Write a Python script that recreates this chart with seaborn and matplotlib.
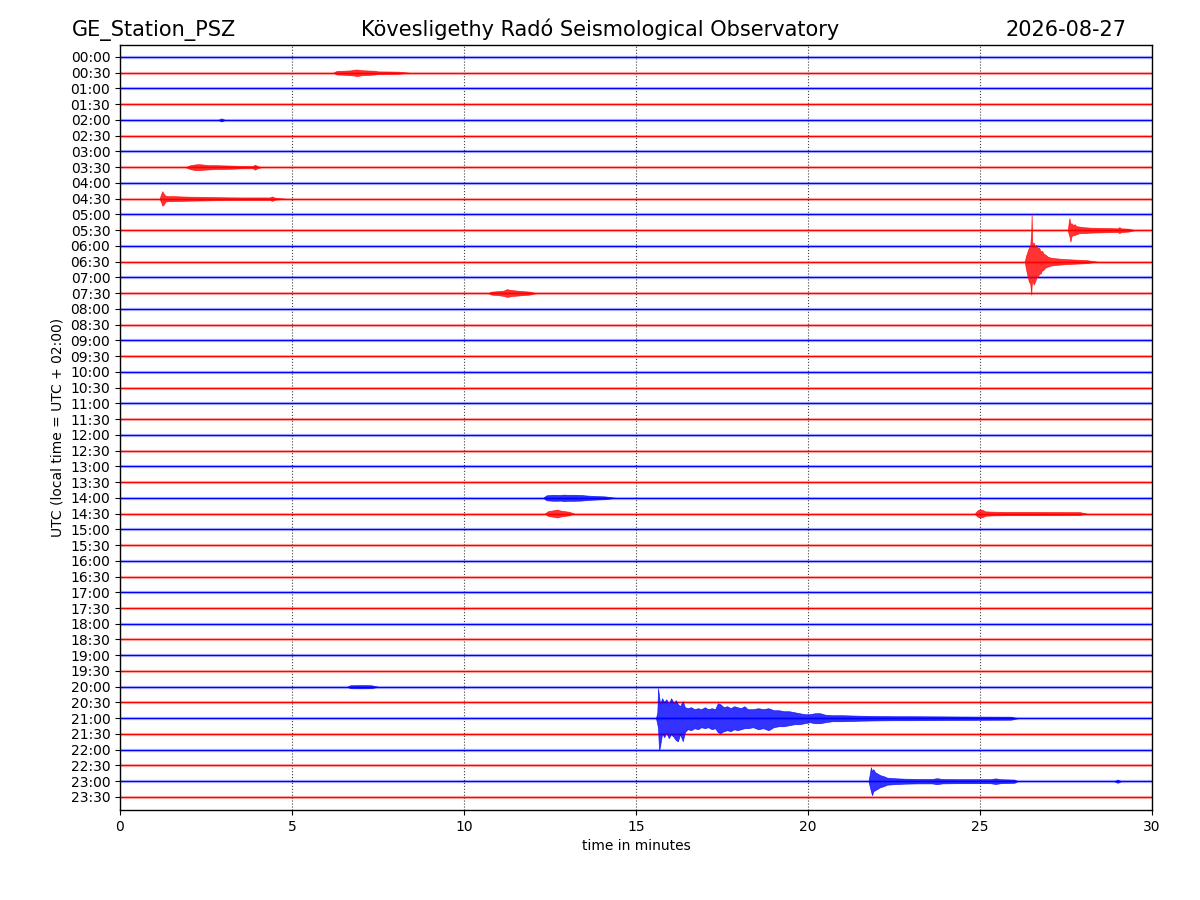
import numpy as np
import pandas as pd
import matplotlib
matplotlib.use("Agg")
import matplotlib.pyplot as plt
import seaborn as sns

# ---------------- data ----------------
station = "GE_Station_PSZ"
observatory = "Kövesligethy Radó Seismological Observatory"
date_label = "2026-08-27"

row_labels = [f"{h:02d}:{m:02d}" for h in range(24) for m in (0, 30)]
row_colors = ["blue", "red"] * 24
x_ticks = [0, 5, 10, 15, 20, 25, 30]

# amplitude unit: counts, 15.75 counts = one trace spacing
COUNTS_PER_ROW = 15.75

# each event: row index, minutes, upper envelope, lower envelope (counts)
ev_row_01 = 1
ev_t_01 = [6.2, 6.3, 6.5, 6.7, 6.8, 6.9, 7.0, 7.2, 7.4, 7.5, 7.8, 8.1, 8.4]
ev_up_01 = [0, 1.8, 2.0, 2.3, 3.0, 3.2, 2.6, 2.2, 2.0, 1.3, 1.2, 1.0, 0]
ev_lo_01 = [0, 1.8, 2.0, 2.5, 2.8, 3.4, 2.6, 2.2, 1.8, 1.3, 1.2, 1.0, 0]

ev_row_02 = 4
ev_t_02 = [2.85, 2.95, 3.05]
ev_up_02 = [0, 1.5, 0]
ev_lo_02 = [0, 1.5, 0]

ev_row_03 = 7
ev_t_03 = [1.9, 2.05, 2.2, 2.3, 2.45, 2.6, 2.8, 3.0, 3.3, 3.5, 3.85, 3.92, 4.0, 4.1]
ev_up_03 = [0, 2.0, 2.8, 3.0, 2.5, 2.0, 2.0, 1.8, 1.5, 1.2, 1.0, 2.5, 1.0, 0]
ev_lo_03 = [0, 2.0, 3.0, 2.8, 2.5, 2.2, 1.8, 1.8, 1.5, 1.2, 1.0, 2.5, 1.0, 0]

ev_row_04 = 9
ev_t_04 = [1.15, 1.2, 1.23, 1.27, 1.32, 1.4, 1.6, 1.8, 2.0, 2.4, 2.8, 3.2, 3.6, 4.0, 4.35, 4.42, 4.5, 4.8]
ev_up_04 = [0, 5.0, 7.5, 5.0, 3.0, 2.5, 2.5, 2.2, 2.0, 1.8, 1.5, 1.3, 1.2, 1.2, 1.2, 2.2, 1.0, 0]
ev_lo_04 = [0, 4.0, 7.0, 6.0, 3.0, 2.5, 2.4, 2.2, 2.0, 1.8, 1.5, 1.3, 1.2, 1.2, 1.2, 2.2, 1.0, 0]

ev_row_05 = 11
ev_t_05 = [27.55, 27.58, 27.6, 27.63, 27.66, 27.7, 27.75, 27.8, 27.9, 28.0, 28.2, 28.5, 28.8, 29.0, 29.05, 29.1, 29.3, 29.5]
ev_up_05 = [0, 8, 12, 6, 7, 5, 6, 4, 3.5, 3, 2.5, 2.2, 2, 1.8, 3, 1.8, 1.5, 0]
ev_lo_05 = [0, 4, 6, 11.5, 6, 5, 5, 4, 3, 3, 2.5, 2.2, 2, 1.8, 3, 1.8, 1.5, 0]

ev_row_06 = 13
ev_t_06 = [26.30, 26.34, 26.38, 26.42, 26.46, 26.49, 26.50, 26.52, 26.56, 26.60, 26.64, 26.68,
           26.72, 26.76, 26.80, 26.85, 26.90, 26.97, 27.05, 27.15, 27.3, 27.5, 27.8, 28.1, 28.4]
ev_up_06 = [0, 6, 10, 14, 16, 30, 48, 18, 19, 15, 17, 13, 14, 10, 11, 8, 7, 5, 4, 3.5, 3, 2.5, 2, 1.5, 0]
ev_lo_06 = [0, 8, 14, 20, 22, 33, 25, 18, 23, 20, 16, 15, 12, 12, 9, 8, 6, 5, 4, 3.5, 3, 2.5, 2, 1.5, 0]

ev_row_07 = 15
ev_t_07 = [10.7, 10.8, 11.0, 11.15, 11.25, 11.3, 11.4, 11.55, 11.7, 11.9, 12.1]
ev_up_07 = [0, 1.5, 2.0, 2.5, 4.0, 3.5, 3.0, 2.5, 2.0, 1.5, 0]
ev_lo_07 = [0, 1.5, 2.0, 2.8, 3.8, 3.5, 2.8, 2.5, 2.0, 1.5, 0]

ev_row_08 = 28
ev_t_08 = [12.3, 12.4, 12.6, 12.8, 12.9, 13.0, 13.2, 13.4, 13.6, 13.8, 14.1, 14.4]
ev_up_08 = [0, 2.5, 3.0, 2.8, 3.2, 3.0, 3.0, 2.8, 2.2, 1.8, 1.4, 0]
ev_lo_08 = [0, 2.5, 3.0, 2.8, 3.2, 3.0, 3.0, 2.8, 2.2, 1.8, 1.4, 0]

ev_row_09 = 29
ev_t_09 = [12.35, 12.45, 12.6, 12.7, 12.8, 12.9, 13.05, 13.2]
ev_up_09 = [0, 2.5, 3.2, 4.0, 3.0, 2.5, 1.8, 0]
ev_lo_09 = [0, 2.5, 3.2, 4.0, 3.0, 2.5, 1.8, 0]

ev_row_10 = 29
ev_t_10 = [24.85, 24.92, 25.0, 25.08, 25.15, 25.4, 25.8, 26.5, 27.2, 27.9, 28.1]
ev_up_10 = [0, 3.0, 4.2, 3.5, 2.2, 1.8, 1.6, 1.6, 1.5, 1.4, 0]
ev_lo_10 = [0, 3.0, 4.2, 3.5, 2.2, 1.8, 1.6, 1.6, 1.5, 1.4, 0]

ev_row_11 = 40
ev_t_11 = [6.6, 6.7, 7.0, 7.3, 7.5]
ev_up_11 = [0, 1.5, 1.6, 1.5, 0]
ev_lo_11 = [0, 1.5, 1.6, 1.5, 0]

ev_row_12 = 42
ev_t_12 = [15.58, 15.62, 15.64, 15.67, 15.70, 15.76, 15.82, 15.88, 15.95, 16.02, 16.10, 16.16,
           16.22, 16.28, 16.36, 16.42, 16.5, 16.6, 16.7, 16.8, 16.9, 17.0, 17.1, 17.2, 17.3,
           17.38, 17.45, 17.55, 17.65, 17.75, 17.85, 17.95, 18.05, 18.15, 18.25, 18.4, 18.55,
           18.7, 18.85, 19.0, 19.15, 19.3, 19.45, 19.6, 19.75, 19.9, 20.05, 20.2, 20.35, 20.5,
           20.7, 21.0, 21.5, 22.0, 22.5, 23.0, 24.0, 25.0, 25.9, 26.1]
ev_up_12 = [0, 6, 30, 22, 14, 20, 16, 19, 14, 20, 15, 18,
            14, 12, 17, 11, 10, 11, 9, 10, 9, 11, 9, 10, 9,
            15, 14, 11, 12, 10, 12, 11, 10, 12, 9, 9, 10,
            9, 10, 8, 8, 7, 7, 6, 5, 4, 4, 5, 5, 3.5,
            3, 3, 2.5, 2.2, 2, 2, 1.8, 1.6, 1.5, 0]
ev_lo_12 = [0, 6, 10, 32, 28, 15, 19, 14, 20, 16, 19, 22,
            23, 16, 23, 14, 11, 12, 10, 11, 9, 10, 9, 11, 10,
            14, 15, 13, 12, 13, 11, 12, 11, 10, 10, 9, 11,
            10, 12, 9, 8, 8, 7, 6, 6, 5, 4, 5, 5, 4,
            3, 3, 2.5, 2.2, 2, 2, 1.8, 1.6, 1.5, 0]

ev_row_13 = 46
ev_t_13 = [21.76, 21.8, 21.83, 21.86, 21.9, 21.95, 22.0, 22.1, 22.2, 22.3, 22.5, 22.8, 23.2,
           23.6, 23.75, 23.9, 24.3, 24.8, 25.3, 25.45, 25.6, 26.0, 26.1]
ev_up_13 = [0, 8, 14, 10, 12, 9, 8, 6, 5, 3.5, 3, 2.5, 2.2, 2.2, 3, 2.2, 2, 2, 2, 2.8, 2, 1.6, 0]
ev_lo_13 = [0, 6, 10, 14, 10, 9, 8, 6, 5, 3.5, 3, 2.5, 2.2, 2.2, 3, 2.2, 2, 2, 2, 2.8, 2, 1.6, 0]

ev_row_14 = 46
ev_t_14 = [28.9, 29.0, 29.1]
ev_up_14 = [0, 1.6, 0]
ev_lo_14 = [0, 1.6, 0]

events = [
    (ev_row_01, ev_t_01, ev_up_01, ev_lo_01),
    (ev_row_02, ev_t_02, ev_up_02, ev_lo_02),
    (ev_row_03, ev_t_03, ev_up_03, ev_lo_03),
    (ev_row_04, ev_t_04, ev_up_04, ev_lo_04),
    (ev_row_05, ev_t_05, ev_up_05, ev_lo_05),
    (ev_row_06, ev_t_06, ev_up_06, ev_lo_06),
    (ev_row_07, ev_t_07, ev_up_07, ev_lo_07),
    (ev_row_08, ev_t_08, ev_up_08, ev_lo_08),
    (ev_row_09, ev_t_09, ev_up_09, ev_lo_09),
    (ev_row_10, ev_t_10, ev_up_10, ev_lo_10),
    (ev_row_11, ev_t_11, ev_up_11, ev_lo_11),
    (ev_row_12, ev_t_12, ev_up_12, ev_lo_12),
    (ev_row_13, ev_t_13, ev_up_13, ev_lo_13),
    (ev_row_14, ev_t_14, ev_up_14, ev_lo_14),
]

# ---------------- plot ----------------
sns.set_style("ticks")
plt.rcParams["font.family"] = ["DejaVu Sans"]
plt.rcParams.update({
    "text.color": "black",
    "axes.labelcolor": "black",
    "xtick.color": "black",
    "ytick.color": "black",
    "axes.edgecolor": "black",
})

fig = plt.figure(figsize=(12, 9), dpi=100)
ax = fig.add_axes([0.1, 0.1, 0.86, 0.85])

n_rows = len(row_labels)
base = pd.DataFrame({
    "minute": [0.0, 30.0] * n_rows,
    "row": np.repeat(np.arange(n_rows), 2),
})
base["level"] = base["row"].astype(float)

# soft halo to mimic background noise thickness
for lw, alpha in [(2.4, 0.22), (1.0, 1.0)]:
    sns.lineplot(data=base, x="minute", y="level", hue="row", units="row",
                 estimator=None, palette=row_colors, legend=False,
                 linewidth=lw, alpha=alpha, ax=ax)

for row, t, up, lo in events:
    t = np.asarray(t, float)
    up = np.asarray(up, float) / COUNTS_PER_ROW
    lo = np.asarray(lo, float) / COUNTS_PER_ROW
    c = row_colors[row]
    ax.fill_between(t, row - up, row + lo, color=c, linewidth=0.5,
                    edgecolor=c, alpha=0.8, zorder=3)

ax.set_xlim(0, 30)
ax.set_ylim(47.83, -0.76)
ax.set_xticks(x_ticks)
ax.set_yticks(np.arange(n_rows))
ax.set_yticklabels(row_labels)
ax.tick_params(labelsize=10, length=3.5, width=0.8, color="black", labelcolor="black")
ax.xaxis.grid(True, linestyle=":", color="0.25", linewidth=0.8)
ax.yaxis.grid(False)
for s in ax.spines.values():
    s.set_visible(True)
    s.set_color("black")
    s.set_linewidth(1.0)

ax.set_xlabel("time in minutes", fontsize=10, color="black")
ax.set_ylabel("UTC (local time = UTC + 02:00)", fontsize=10, color="black")

fig.text(0.06, 0.96, station, fontsize=15, ha="left", va="baseline", color="black")
fig.text(0.5, 0.96, observatory, fontsize=15, ha="center", va="baseline", color="black")
fig.text(0.939, 0.96, date_label, fontsize=15, ha="right", va="baseline", color="black")

fig.savefig("out.png", dpi=100)
